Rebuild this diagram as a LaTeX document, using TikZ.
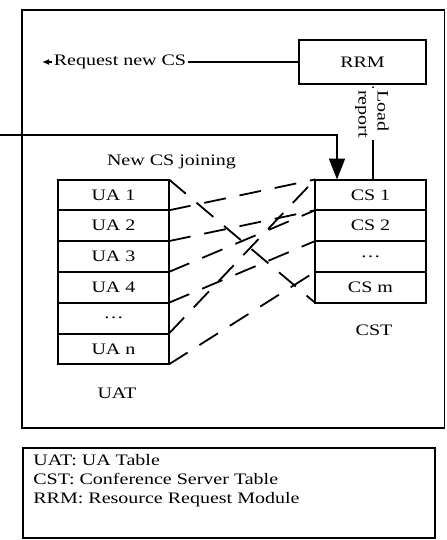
\documentclass[tikz,border=0pt]{standalone}
\usepackage{fontspec}
\setmainfont{Liberation Serif}[FakeStretch=1.25]
\usetikzlibrary{arrows.meta,calc}

\begin{document}
\begin{tikzpicture}[x=0.5pt,y=-0.5pt,>={Latex[length=3.5pt,width=3pt]},
  every node/.style={font=\fontsize{8}{9.5}\selectfont},
  cell/.style={draw,line width=1pt,minimum width=55.5pt,minimum height=15.4pt,inner sep=0pt,outer sep=0pt},
  link/.style={line width=0.9pt,dash pattern=on 11pt off 7pt}]
  \useasboundingbox (0,0) rectangle (446,540);
  \draw[line width=0.7pt] (22,10) rectangle (444.5,428);
  \draw[line width=0.7pt] (23,448) rectangle (435,538);
  \node[draw,line width=1pt,minimum width=63.5pt,minimum height=22pt,inner sep=0pt] (rrm) at (362.5,62) {RRM};
  \foreach \i/\lab in {1/UA 1,2/UA 2,3/UA 3,4/UA 4,5/\ldots,6/UA n}
    \node[cell] (ua\i) at (113.5,{179.5+30.8*(\i-0.5)}) {\lab};
  \foreach \i/\lab in {1/CS 1,2/CS 2,3/\ldots,4/CS m}
    \node[cell] (cs\i) at (370.5,{179.5+30.8*(\i-0.5)}) {\lab};
  \foreach \a/\b in {ua1.north east/cs4.south west,ua1.south east/cs1.north west,
                     ua2.south east/cs1.south west,ua3.south east/cs1.south west,
                     ua4.south east/cs2.south west,ua5.south east/cs1.north west,
                     ua6.south east/cs3.south west}
    \draw[link] (\a) -- (\b);
  \coordinate (reqtip) at (42,62);
  \draw[->,line width=0.7pt] (rrm.west) -- (reqtip);
  \node[fill=white,inner sep=1pt] (req) at (120,62) {Request new CS};
  \coordinate (ld) at (373,0);
  \draw[->,line width=0.7pt] (cs1.north -| ld) -- (rrm.south -| ld);
  \node[rotate=-90,align=left,fill=white,inner sep=1pt] (load) at (372,114) {Load\\report};
  \coordinate (nin) at (0,135);
  \draw[line width=1pt,-{Triangle[width=8pt,length=10.5pt]}] (nin) -| ($(cs1.north west)+(22,0)$);
  \node (ncj) at (171.5,162) {New CS joining};
  \node (uat) at (117,393) {UAT};
  \node (cst) at (374,330) {CST};
  \node[anchor=west,align=left,inner sep=0pt] (legend) at (33,481)
    {UAT: UA Table\\CST: Conference Server Table\\RRM: Resource Request Module};
\end{tikzpicture}
\end{document}
